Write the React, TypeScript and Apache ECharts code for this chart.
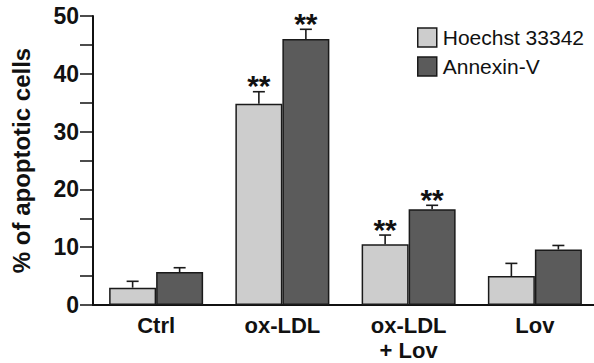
import React, { useEffect, useRef } from "react";
import * as echarts from "echarts";

const categories = ["Ctrl", "ox-LDL", "ox-LDL\n+ Lov", "Lov"];
const hoechst = [3.0, 34.8, 10.5, 5.0];
const hoechstErr = [1.1, 2.1, 1.6, 2.2];
const annexin = [5.7, 46.0, 16.55, 9.6];
const annexinErr = [0.75, 1.7, 0.7, 0.7];
const hoechstSig = [false, true, true, false];
const annexinSig = [false, true, true, false];
const yTicks = [0, 10, 20, 30, 40, 50];

const FONT = "'Liberation Sans', Arial, Helvetica, sans-serif";
const BAR_W = 47;

export default function App() {
  const ref = useRef<HTMLDivElement>(null);
  useEffect(() => {
    if (!ref.current) return;
    const chart = echarts.init(ref.current, null, { renderer: "svg" });

    const errData = (vals: number[], errs: number[], sig: boolean[], off: number) =>
      vals.map((v, i) => [i, v, errs[i], sig[i] ? 1 : 0, off]);

    const renderErr = (params: any, api: any) => {
      const idx = api.value(0);
      const v = api.value(1);
      const e = api.value(2);
      const s = api.value(3);
      const off = api.value(4);
      const base = api.coord([idx, v]);
      const top = api.coord([idx, v + e]);
      const x = base[0] + off;
      const children: any[] = [
        {
          type: "line",
          shape: { x1: x, y1: base[1], x2: x, y2: top[1] },
          style: { stroke: "#1a1a1a", lineWidth: 1.6 },
        },
        {
          type: "line",
          shape: { x1: x - 6, y1: top[1], x2: x + 6, y2: top[1] },
          style: { stroke: "#1a1a1a", lineWidth: 1.6 },
        },
      ];
      if (s) {
        children.push({
          type: "text",
          style: {
            text: "**",
            x: x,
            y: top[1] + 9,
            textAlign: "center",
            textVerticalAlign: "bottom",
            font: `bold 30px ${FONT}`,
            fill: "#111",
          },
        });
      }
      return { type: "group", children };
    };

    chart.setOption({
      animation: false,
      backgroundColor: "#ffffff",
      grid: { left: 93, right: -4, top: 16, bottom: 58, outerBoundsMode: "none", containLabel: false },
      legend: {
        orient: "vertical",
        left: 412,
        top: 22,
        itemWidth: 19,
        itemHeight: 19,
        itemGap: 8,
        icon: "rect",
        textStyle: {
          fontFamily: FONT,
          fontSize: 21,
          color: "#111",
          padding: [0, 0, 0, 1],
        },
        data: [
          { name: "Hoechst 33342", itemStyle: { borderColor: "#1a1a1a", borderWidth: 1.5 } },
          { name: "Annexin-V", itemStyle: { borderColor: "#1a1a1a", borderWidth: 1.5 } },
        ],
      },
      xAxis: {
        type: "category",
        data: categories,
        axisTick: { show: false },
        axisLine: { lineStyle: { color: "#111", width: 2 } },
        axisLabel: {
          fontFamily: FONT,
          fontWeight: "bold",
          fontSize: 22,
          color: "#111",
          margin: 8,
          lineHeight: 25,
        },
      },
      yAxis: {
        type: "value",
        min: 0,
        max: 50,
        interval: 5,
        name: "% of apoptotic cells",
        nameLocation: "middle",
        nameGap: 60,
        nameTextStyle: {
          fontFamily: FONT,
          fontWeight: "bold",
          fontSize: 24,
          color: "#111",
        },
        splitLine: { show: false },
        axisLine: { show: true, lineStyle: { color: "#111", width: 2 } },
        axisTick: { show: true, length: 13, lineStyle: { color: "#111", width: 1.5 } },
        axisLabel: {
          fontFamily: FONT,
          fontWeight: "bold",
          fontSize: 23,
          color: "#111",
          margin: 14,
          formatter: (v: number) => (yTicks.indexOf(v) >= 0 ? String(v) : ""),
        },
      },
      series: [
        {
          name: "Hoechst 33342",
          type: "bar",
          data: hoechst,
          barWidth: BAR_W,
          barGap: "0%",
          itemStyle: { color: "#cdcdcd", borderColor: "#1a1a1a", borderWidth: 1.5 },
        },
        {
          name: "Annexin-V",
          type: "bar",
          data: annexin,
          barWidth: BAR_W,
          barGap: "0%",
          itemStyle: { color: "#5b5b5b", borderColor: "#1a1a1a", borderWidth: 1.5 },
        },
        {
          type: "custom",
          renderItem: renderErr,
          data: errData(hoechst, hoechstErr, hoechstSig, -BAR_W / 2),
          z: 10,
          silent: true,
        },
        {
          type: "custom",
          renderItem: renderErr,
          data: errData(annexin, annexinErr, annexinSig, BAR_W / 2),
          z: 10,
          silent: true,
        },
      ],
    });
    return () => chart.dispose();
  }, []);
  return <div ref={ref} style={{ width: 594, height: 363, position: "fixed", left: 0, top: 0 }} />;
}
